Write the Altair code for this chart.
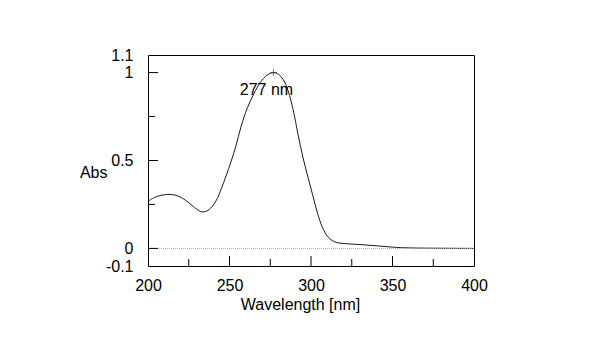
import altair as alt
import pandas as pd

# Spectrum data (wavelength nm, absorbance)
wavelength = [200, 204, 208, 212, 215, 219, 223, 227, 230, 233, 236, 239, 242, 245,
              248, 251, 254, 257, 261, 265, 269, 273, 277, 280, 283, 286, 289, 292,
              295, 298, 301, 304, 307, 310, 313, 316, 320, 330, 340, 350, 360, 380, 400]
absorbance = [0.268, 0.290, 0.302, 0.307, 0.306, 0.296, 0.274, 0.245, 0.222, 0.208,
              0.212, 0.235, 0.275, 0.340, 0.415, 0.495, 0.585, 0.690, 0.800, 0.880,
              0.945, 0.985, 1.000, 0.990, 0.960, 0.895, 0.790, 0.650, 0.520, 0.410,
              0.305, 0.200, 0.120, 0.070, 0.045, 0.033, 0.028, 0.022, 0.015, 0.007,
              0.003, 0.001, 0.000]

x_labels = [200, 250, 300, 350, 400]
y_labels = [-0.1, 0, 0.5, 1, 1.1]
x_major = [250, 300, 350]
x_minor = [225, 275, 325, 375]
y_major = [0, 0.5, 1]
y_minor = [0.25, 0.75]
peak_wl = [277]
peak_abs = [1.0]
peak_text = ["277 nm"]

FONT = "Liberation Sans"
FS = 16
W, H = 326, 211

xs = alt.Scale(domain=[200, 400], nice=False, zero=False)
ys = alt.Scale(domain=[-0.1, 1.1], nice=False, zero=False)

x_axis = alt.Axis(values=x_labels, ticks=False, tickSize=0, domain=False, grid=False,
                  labelFont=FONT, labelFontSize=FS, labelColor="black", labelPadding=11,
                  labelFlush=False,
                  title="Wavelength [nm]", titleFont=FONT, titleFontSize=FS,
                  titleFontWeight="normal", titleColor="black",
                  titleX=152, titleY=38, titleAlign="center", titleBaseline="middle")
y_axis = alt.Axis(values=y_labels, ticks=False, tickSize=0, domain=False, grid=False,
                  labelExpr="datum.value + ''",
                  labelFont=FONT, labelFontSize=FS, labelColor="black", labelPadding=15,
                  labelFlush=False,
                  title="Abs", titleFont=FONT, titleFontSize=FS, titleFontWeight="normal",
                  titleColor="black", titleAngle=0, titleAlign="right",
                  titleBaseline="middle", titleX=-41, titleY=117)


def X():
    return alt.X("wl:Q", scale=xs, axis=x_axis, title="Wavelength [nm]")


def Y():
    return alt.Y("abs:Q", scale=ys, axis=y_axis, title="Abs")


spec = pd.DataFrame({"wl": wavelength, "abs": absorbance})

line = alt.Chart(spec).mark_line(color="#1a1a1a", strokeWidth=1,
                                 interpolate="catmull-rom").encode(x=X(), y=Y())

zero_line = alt.Chart(pd.DataFrame({"abs": [0]})).mark_rule(
    color="#aaaaaa", strokeDash=[1, 1], strokeWidth=1
).encode(y=Y())

xmaj = alt.Chart(pd.DataFrame({"wl": x_major})).mark_rule(color="black", strokeWidth=1).encode(
    x=X(), y=alt.value(H), y2=alt.value(H - 10))
xmin = alt.Chart(pd.DataFrame({"wl": x_minor})).mark_rule(color="black", strokeWidth=1).encode(
    x=X(), y=alt.value(H), y2=alt.value(H - 7))
ymaj = alt.Chart(pd.DataFrame({"abs": y_major})).mark_rule(color="black", strokeWidth=1).encode(
    y=Y(), x=alt.value(0), x2=alt.value(10))
ymin = alt.Chart(pd.DataFrame({"abs": y_minor})).mark_rule(color="black", strokeWidth=1).encode(
    y=Y(), x=alt.value(0), x2=alt.value(7))

peak = pd.DataFrame({"wl": peak_wl, "abs": peak_abs, "t": peak_text})
marker = alt.Chart(peak).mark_point(
    shape="M-1,0L1,0M0,-1L0,1", size=49, color="#333333", strokeWidth=1, filled=False
).encode(x=X(), y=Y())
label = alt.Chart(peak).mark_text(
    font=FONT, fontSize=FS, color="black", align="center", baseline="middle", dx=-7, dy=17
).encode(x=X(), y=Y(), text="t:N")

chart = alt.layer(line, zero_line, xmaj, xmin, ymaj, ymin, marker, label).properties(
    width=W, height=H,
    autosize=alt.AutoSizeParams(type="none"),
    padding={"left": 148, "top": 55, "right": 115, "bottom": 91},
    background="white",
).configure_view(stroke="black", strokeWidth=1)

chart.save("out.html", embed_options={"renderer": "svg", "actions": False})
